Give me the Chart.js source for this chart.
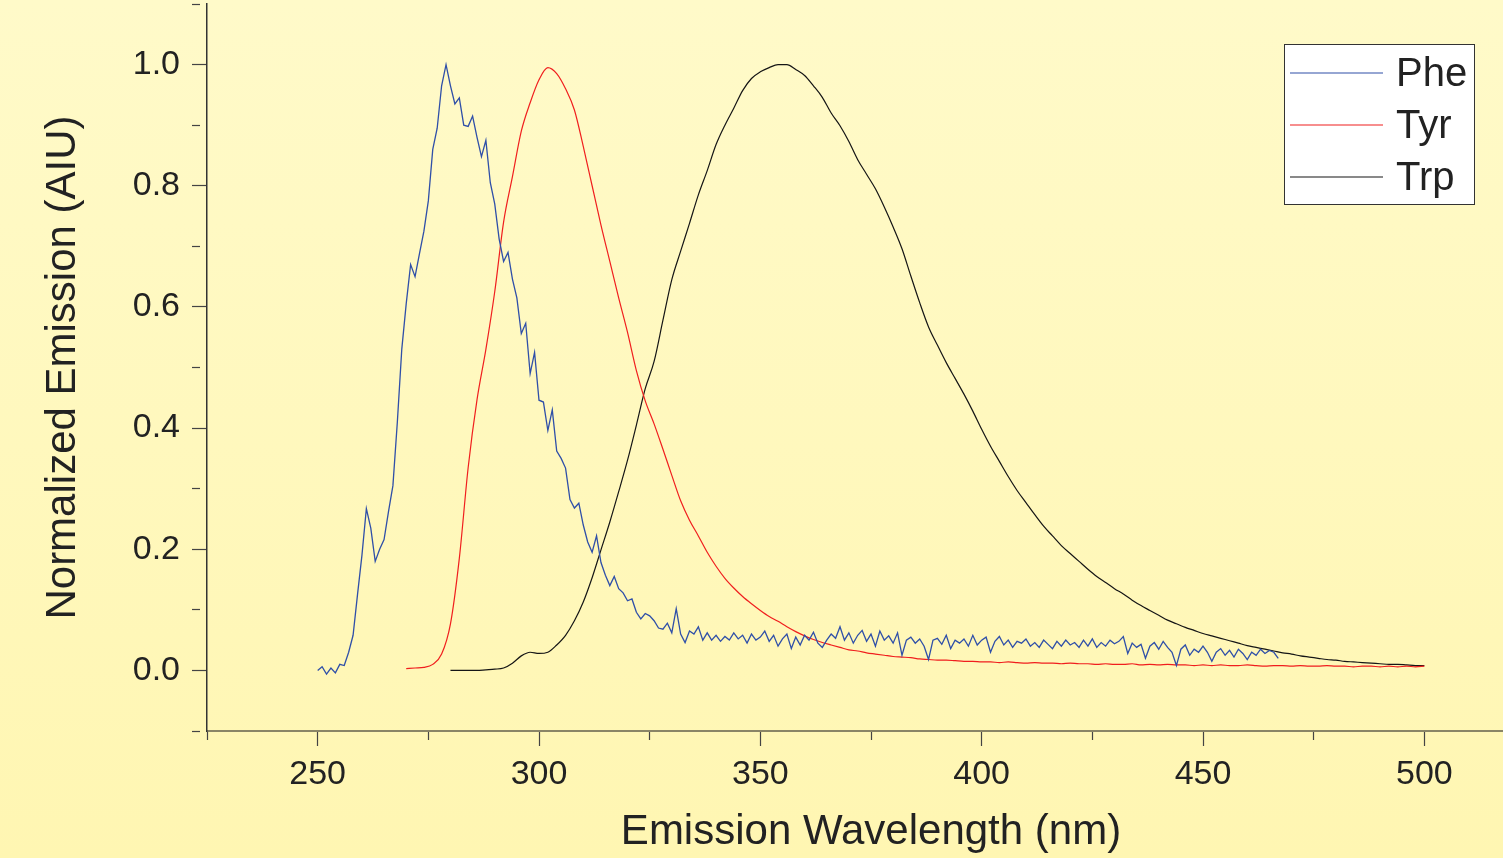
<!DOCTYPE html>
<html>
<head>
<meta charset="utf-8">
<title>Emission spectra</title>
<script src="https://cdn.jsdelivr.net/npm/chart.js@4.4.1/dist/chart.umd.min.js"></script>
<style>
  html, body { margin: 0; padding: 0; overflow: hidden; }
  body { width: 1503px; height: 858px; background: linear-gradient(#FFFAC9, #FFF6B2); }
  #wrap { position: absolute; left: 0; top: 0; width: 1535px; height: 858px; }
</style>
</head>
<body>
<div id="wrap"><canvas id="emissionChart" width="1535" height="858"></canvas></div>
<script>
// wavelength grid of each scan (nm)
var pheStart = 250, pheStep = 1;
var tyrStart = 270, tyrStep = 2;
var trpStart = 280, trpStep = 2;

// normalized emission
var pheValues = [
  0.000, 0.006, -0.006, 0.004, -0.004, 0.010, 0.008, 0.030, 0.058, 0.125,
  0.190, 0.267, 0.235, 0.180, 0.200, 0.216, 0.262, 0.305, 0.410, 0.530,
  0.605, 0.670, 0.650, 0.688, 0.725, 0.775, 0.860, 0.895, 0.965, 1.000,
  0.965, 0.935, 0.945, 0.900, 0.898, 0.915, 0.880, 0.848, 0.875, 0.805,
  0.770, 0.712, 0.675, 0.690, 0.646, 0.615, 0.556, 0.573, 0.490, 0.525,
  0.446, 0.443, 0.396, 0.430, 0.362, 0.350, 0.334, 0.282, 0.268, 0.276,
  0.240, 0.212, 0.195, 0.222, 0.178, 0.157, 0.140, 0.155, 0.135, 0.128,
  0.115, 0.118, 0.096, 0.085, 0.094, 0.090, 0.082, 0.070, 0.068, 0.078,
  0.062, 0.102, 0.060, 0.046, 0.065, 0.060, 0.072, 0.050, 0.062, 0.050,
  0.058, 0.048, 0.056, 0.050, 0.062, 0.052, 0.058, 0.045, 0.060, 0.050,
  0.055, 0.065, 0.048, 0.058, 0.040, 0.052, 0.060, 0.036, 0.055, 0.042,
  0.058, 0.050, 0.063, 0.045, 0.038, 0.050, 0.060, 0.053, 0.072, 0.050,
  0.062, 0.045, 0.058, 0.066, 0.048, 0.060, 0.040, 0.065, 0.050, 0.057,
  0.045, 0.062, 0.025, 0.050, 0.055, 0.045, 0.052, 0.040, 0.018, 0.050,
  0.053, 0.043, 0.058, 0.036, 0.050, 0.045, 0.052, 0.040, 0.058, 0.042,
  0.050, 0.055, 0.030, 0.048, 0.056, 0.042, 0.050, 0.038, 0.048, 0.045,
  0.052, 0.040, 0.046, 0.038, 0.050, 0.043, 0.036, 0.048, 0.040, 0.050,
  0.042, 0.046, 0.038, 0.050, 0.040, 0.052, 0.038, 0.046, 0.040, 0.050,
  0.044, 0.048, 0.056, 0.028, 0.045, 0.038, 0.043, 0.020, 0.040, 0.046,
  0.035, 0.048, 0.038, 0.030, 0.008, 0.035, 0.042, 0.025, 0.035, 0.030,
  0.040, 0.030, 0.015, 0.030, 0.036, 0.025, 0.033, 0.022, 0.035, 0.028,
  0.018, 0.030, 0.025, 0.035, 0.028, 0.033, 0.030, 0.020
];

var tyrValues = [
  0.003, 0.004, 0.005, 0.010, 0.027, 0.077, 0.185, 0.335, 0.447, 0.530,
  0.625, 0.740, 0.815, 0.890, 0.937, 0.975, 0.995, 0.985, 0.960, 0.925,
  0.865, 0.800, 0.735, 0.675, 0.615, 0.558, 0.495, 0.445, 0.407, 0.365,
  0.322, 0.280, 0.248, 0.222, 0.195, 0.172, 0.152, 0.136, 0.122, 0.110,
  0.099, 0.089, 0.081, 0.072, 0.064, 0.057, 0.051, 0.046, 0.042, 0.038,
  0.034, 0.032, 0.029, 0.027, 0.025, 0.023, 0.022, 0.021, 0.019, 0.018,
  0.017, 0.017, 0.016, 0.015, 0.015, 0.014, 0.014, 0.013, 0.014, 0.013,
  0.012, 0.013, 0.012, 0.012, 0.011, 0.012, 0.011, 0.011, 0.010, 0.011,
  0.010, 0.010, 0.011, 0.009, 0.010, 0.009, 0.010, 0.009, 0.009, 0.008,
  0.009, 0.008, 0.009, 0.008, 0.008, 0.009, 0.008, 0.007, 0.008, 0.008,
  0.007, 0.008, 0.007, 0.007, 0.008, 0.007, 0.007, 0.006, 0.007, 0.007,
  0.006, 0.007, 0.006, 0.007, 0.006, 0.007
];

var trpValues = [
  0.000, 0.000, 0.000, 0.000, 0.001, 0.002, 0.004, 0.012, 0.024, 0.030,
  0.028, 0.030, 0.042, 0.058, 0.082, 0.113, 0.153, 0.199, 0.245, 0.295,
  0.347, 0.405, 0.465, 0.510, 0.578, 0.645, 0.692, 0.738, 0.785, 0.825,
  0.868, 0.900, 0.928, 0.957, 0.977, 0.988, 0.995, 1.000, 1.000, 0.992,
  0.982, 0.965, 0.946, 0.920, 0.899, 0.873, 0.843, 0.819, 0.795, 0.765,
  0.732, 0.696, 0.651, 0.607, 0.567, 0.537, 0.508, 0.482, 0.456, 0.428,
  0.398, 0.370, 0.345, 0.320, 0.297, 0.277, 0.257, 0.238, 0.222, 0.206,
  0.193, 0.180, 0.167, 0.155, 0.145, 0.135, 0.126, 0.116, 0.107, 0.099,
  0.091, 0.083, 0.077, 0.071, 0.066, 0.061, 0.057, 0.053, 0.049, 0.045,
  0.041, 0.038, 0.035, 0.032, 0.029, 0.027, 0.024, 0.022, 0.020, 0.018,
  0.017, 0.015, 0.014, 0.013, 0.012, 0.011, 0.010, 0.010, 0.009, 0.008,
  0.008
];

var seriesLabels = ["Phe", "Tyr", "Trp"];
var xMajorTicks = [250, 300, 350, 400, 450, 500];
var yMajorTicks = [0.0, 0.2, 0.4, 0.6, 0.8, 1.0];

function toPoints(start, step, values) {
  var pts = [];
  for (var i = 0; i < values.length; i++) {
    pts.push({x: start + i * step, y: values[i]});
  }
  return pts;
}

function isMajorX(v) { return xMajorTicks.indexOf(Math.round(v)) >= 0; }
function isMajorY(v) {
  for (var i = 0; i < yMajorTicks.length; i++) {
    if (Math.abs(yMajorTicks[i] - v) < 1e-6) return true;
  }
  return false;
}

// no extra room for half tick labels at the axis ends
function noEdgePadding(scale) {
  scale.paddingTop = 0;
  scale.paddingBottom = 0;
  scale.paddingLeft = 0;
  scale.paddingRight = 0;
}

var fontFamily = '"Liberation Sans", Arial, Helvetica, sans-serif';

// legend drawn as a framed box inside the plot, like the original
var boxLegend = {
  id: 'boxLegend',
  afterDatasetsDraw: function(chart) {
    var ctx = chart.ctx;
    ctx.save();
    ctx.fillStyle = '#ffffff';
    ctx.fillRect(1284.5, 44.5, 190, 160);
    ctx.strokeStyle = '#333333';
    ctx.lineWidth = 1;
    ctx.strokeRect(1284.5, 44.5, 190, 160);
    chart.data.datasets.forEach(function(ds, i) {
      var y = 73 + i * 52;
      ctx.strokeStyle = ds.borderColor;
      ctx.lineWidth = 1.2;
      ctx.beginPath();
      ctx.moveTo(1290, y);
      ctx.lineTo(1383, y);
      ctx.stroke();
      ctx.fillStyle = '#222222';
      ctx.font = '40px ' + fontFamily;
      ctx.textBaseline = 'middle';
      ctx.textAlign = 'left';
      ctx.fillText(ds.label, 1396, y + 2);
    });
    ctx.restore();
  }
};

var chartdata = {
  datasets: [
    {
      label: seriesLabels[0],
      data: toPoints(pheStart, pheStep, pheValues),
      borderColor: "#2f4fa8",
      borderWidth: 1.3,
      pointRadius: 0,
      fill: false,
      tension: 0
    },
    {
      label: seriesLabels[1],
      data: toPoints(tyrStart, tyrStep, tyrValues),
      borderColor: "#f01e1e",
      borderWidth: 1.2,
      pointRadius: 0,
      fill: false,
      cubicInterpolationMode: 'monotone'
    },
    {
      label: seriesLabels[2],
      data: toPoints(trpStart, trpStep, trpValues),
      borderColor: "#151515",
      borderWidth: 1.2,
      pointRadius: 0,
      fill: false,
      cubicInterpolationMode: 'monotone'
    }
  ]
};

var x = document.getElementById("emissionChart");

var LineGraph = new Chart(x, {
  type: 'line',
  data: chartdata,
  plugins: [boxLegend],
  options: {
    responsive: false,
    animation: false,
    layout: { padding: { top: 4, left: 0, right: 0, bottom: 0 } },
    plugins: {
      legend: { display: false },
      tooltip: { enabled: false }
    },
    scales: {
      x: {
        type: 'linear',
        min: 225,
        max: 525,
        afterFit: function(scale) { scale.height = 127; noEdgePadding(scale); },
        border: { display: true, color: '#8a8566', width: 2 },
        grid: {
          drawOnChartArea: false,
          drawTicks: true,
          tickLength: 15,
          tickColor: '#444444',
          tickWidth: 1.2,
          tickBorderDash: function(c) {
            return (c.tick && isMajorX(c.tick.value)) ? [] : [8, 40];
          }
        },
        ticks: {
          stepSize: 25,
          includeBounds: false,
          autoSkip: false,
          maxRotation: 0,
          padding: 8,
          color: '#222222',
          font: { family: fontFamily, size: 34 },
          callback: function(v) { return isMajorX(v) ? String(Math.round(v)) : ''; }
        },
        title: {
          display: true,
          text: 'Emission Wavelength (nm)',
          color: '#222222',
          font: { family: fontFamily, size: 42 },
          padding: { top: 0, bottom: 0 }
        }
      },
      y: {
        min: -0.1,
        max: 1.1,
        afterFit: function(scale) { scale.width = 207; noEdgePadding(scale); },
        border: { display: true, color: '#333333', width: 1.5 },
        grid: {
          drawOnChartArea: false,
          drawTicks: true,
          tickLength: 15,
          tickColor: '#444444',
          tickWidth: 1.2,
          tickBorderDash: function(c) {
            return (c.tick && isMajorY(c.tick.value)) ? [] : [8, 40];
          }
        },
        ticks: {
          stepSize: 0.1,
          autoSkip: false,
          padding: 12,
          color: '#222222',
          font: { family: fontFamily, size: 34 },
          callback: function(v) { return isMajorY(v) ? v.toFixed(1) : ''; }
        },
        title: {
          display: true,
          text: 'Normalized Emission (AIU)',
          color: '#222222',
          font: { family: fontFamily, size: 42 },
          padding: { top: 38, bottom: 0 }
        }
      }
    }
  }
});
</script>
</body>
</html>
